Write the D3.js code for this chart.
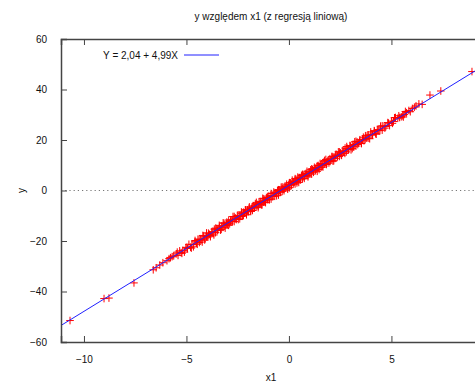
<!DOCTYPE html>
<html><head><meta charset="utf-8">
<script src="https://cdn.jsdelivr.net/npm/d3@7"></script>
<style>body{margin:0;background:#fff}svg{display:block}text{font-family:"Liberation Sans",Arial,sans-serif;fill:#111}</style>
</head><body><svg id="c" width="475" height="385"></svg>
<script>
const title = "y względem x1 (z regresją liniową)";
const xLabel = "x1";
const yLabel = "y";
const legendText = "Y = 2,04 + 4,99X";
const intercept = 2.04;
const slope = 4.99;
const xTicks = [-10, -5, 0, 5];
const yTicks = [-60, -40, -20, 0, 20, 40, 60];
const xsA = [-10.68,-9.02,-8.78,-7.56,-6.62,-6.48,-6.3,-6.15,-5.95,-5.85,-5.78,-5.7,-5.62,
-5.50,-5.41,-5.33,-5.26,-5.18,-5.10,-5.03,-4.95,-4.88,-4.80,-4.73,-4.66,-4.58,-4.51,-4.44,-4.37,-4.30,-4.23,-4.16,-4.09,-4.02,-3.96,-3.89,-3.83,-3.76,-3.70,-3.64,-3.58,-3.52,-3.46,-3.40,-3.34,-3.28,-3.22,-3.17,-3.11,-3.05,-3.00,-2.94,-2.89,-2.83,-2.78,-2.73,-2.67,-2.62,-2.57,-2.52,-2.47,-2.42,-2.37,-2.32,-2.27,-2.22,-2.17,-2.12,-2.07,-2.02,-1.97,-1.93,-1.88,-1.83,-1.78,-1.74,-1.69,-1.64,-1.60,-1.55,-1.50,-1.46,-1.41,-1.37,-1.32,-1.28,-1.23,-1.19,-1.14,-1.10,-1.05,-1.01,-0.96,-0.92,-0.87,-0.83,-0.78,-0.74,-0.69,-0.65,-0.60,-0.56,-0.51,-0.47,-0.42,-0.38,-0.33,-0.29,-0.24,-0.20,-0.15,-0.11,-0.06,-0.02,
0.03,0.07,0.12,0.16,0.21,0.25,0.30,0.34,0.39,0.43,0.48,0.52,0.57,0.61,0.66,0.70,0.75,0.79,0.84,0.88,0.93,0.97,1.02,1.06,1.11,1.15,1.20,1.24,1.29,1.33,1.38,1.43,1.47,1.52,1.57,1.61,1.66,1.71,1.75,1.80,1.85,1.90,1.95,2.00,2.05,2.10,2.15,2.20,2.25,2.30,2.36,2.41,2.46,2.52,2.57,2.63,2.68,2.74,2.80,2.85,2.91,2.97,3.03,3.09,3.15,3.21,3.27,3.33,3.40,3.46,3.53,3.59,3.66,3.73,3.80,3.87,3.94,4.01,4.08,4.16,4.23,4.31,4.39,4.47,4.55,4.64,4.73,4.82,4.91,5.00,5.10,5.20,
5.31,5.40,5.48,5.55,5.62,5.74,5.85,6.02,6.12,6.34,6.88,7.41,8.93];
const ysA = [-51.5,-42.8,-42.6,-36.6,-31.4,-30.6,-29.5,-28.6,-27.8,-27.0,-26.6,-26.2,-25.9,
-25.1,-25.7,-23.9,-24.6,-23.7,-24.4,-22.7,-23.0,-21.3,-22.5,-21.4,-22.3,-20.3,-20.8,-19.3,-20.6,-19.4,-20.4,-18.1,-18.9,-16.8,-18.4,-17.3,-18.3,-16.3,-16.8,-15.3,-16.7,-15.2,-15.4,-13.8,-15.7,-14.1,-14.6,-13.0,-14.9,-13.2,-13.4,-11.7,-13.2,-11.6,-12.1,-10.3,-12.3,-10.8,-11.5,-9.9,-11.5,-9.9,-10.2,-8.5,-10.2,-8.6,-9.0,-7.7,-9.6,-7.7,-8.4,-6.5,-8.1,-7.0,-7.9,-6.1,-6.8,-5.2,-6.6,-5.5,-6.8,-4.5,-5.3,-4.4,-5.5,-3.1,-4.6,-3.9,-4.8,-2.8,-3.6,-2.2,-3.5,-2.2,-3.4,-2.0,-2.4,-0.6,-2.3,-1.0,-1.2,0.0,-1.8,0.2,-0.5,1.3,-0.3,0.7,-0.1,1.7,1.0,2.5,1.0,2.2,
1.1,3.0,2.4,4.1,2.6,3.5,2.6,4.5,3.6,5.3,3.2,5.0,4.8,6.0,4.6,5.8,4.8,6.6,5.9,7.6,5.9,7.0,6.6,8.2,6.5,8.3,7.8,9.2,7.9,9.0,7.6,9.9,8.9,10.7,9.2,10.3,9.3,11.4,10.6,12.3,10.8,11.9,10.9,12.6,12.0,13.5,11.6,13.2,12.7,14.4,13.4,15.3,13.5,14.9,13.9,15.9,15.3,16.8,15.3,16.7,16.3,17.8,16.1,17.7,17.3,19.3,17.6,19.2,18.8,20.1,18.7,20.3,19.7,21.7,20.7,22.0,20.5,22.3,21.9,23.7,22.5,24.0,23.8,25.5,23.9,25.5,25.3,26.9,25.7,27.5,27.3,28.9,
28.6,28.9,29.2,29.6,30.1,30.8,31.7,32.5,33.0,34.3,37.8,39.4,47.1];
const xsB = [-5.45,-5.22,-4.98,-4.76,-4.58,-4.47,-4.38,-4.29,-4.20,-4.11,-4.02,-3.93,-3.84,-3.75,-3.66,-3.57,-3.48,-3.39,-3.30,-3.21,-3.12,-3.03,-2.94,-2.85,-2.76,-2.67,-2.58,-2.49,-2.40,-2.31,-2.22,-2.13,-2.04,-1.95,-1.86,-1.77,-1.68,-1.59,-1.50,-1.41,-1.32,-1.23,-1.14,-1.05,-0.96,-0.87,-0.78,-0.69,-0.60,-0.51,-0.42,-0.33,-0.24,-0.15,-0.06,
0.03,0.12,0.21,0.30,0.39,0.48,0.57,0.66,0.75,0.84,0.93,1.02,1.11,1.20,1.29,1.38,1.47,1.56,1.65,1.74,1.83,1.92,2.01,2.10,2.19,2.28,2.37,2.46,2.55,2.64,2.73,2.82,2.91,3.00,3.09,3.18,3.27,3.36,3.45,3.54,3.63,3.72,3.81,3.90,3.99,4.08,4.17,4.26,4.35,4.44,
4.55,4.68,4.86,5.05,5.15,5.36,5.58,5.68,5.92,6.2,6.5];
const ysB = [-24.4,-24.9,-22.5,-22.8,-19.8,-21.3,-19.3,-19.7,-17.8,-19.6,-18.4,-16.9,-17.8,-16.5,-17.6,-14.9,-15.8,-14.5,-15.4,-12.8,-13.8,-12.5,-13.8,-12.1,-12.4,-10.3,-11.2,-9.9,-11.2,-9.2,-9.9,-7.7,-8.3,-7.0,-8.3,-6.6,-6.9,-4.7,-6.2,-5.0,-5.8,-3.3,-4.1,-2.7,-3.7,-1.2,-2.1,-1.0,-2.1,0.3,-0.7,1.4,0.5,1.7,0.5,
3.1,2.1,3.3,4.7,3.0,4.9,4.2,6.4,5.6,6.8,5.4,7.4,8.6,7.2,8.7,9.8,8.3,10.2,9.9,11.9,10.3,11.7,11.5,13.3,11.8,13.9,13.6,15.3,14.1,15.4,14.7,17.4,16.2,17.6,16.6,18.2,19.5,18.2,19.5,18.6,21.1,20.3,21.6,20.7,23.2,22.2,23.5,22.3,24.1,23.7,
25.6,24.7,26.7,26.6,28.8,29.6,29.1,31.3,31.2,33.5,34.1];

const xs = xsA.concat(xsB);
const ys = ysA.concat(ysB);

const svg = d3.select("#c");
const L = 61, R = 481, T = 39, B = 342;
const x = d3.scaleLinear().domain([-11.12, 9.37]).range([L, R]);
const y = d3.scaleLinear().domain([-60, 60]).range([B, T]);
const axCol = "#444";

// zero line
svg.append("line").attr("x1", L).attr("x2", R).attr("y1", y(0)).attr("y2", y(0))
  .attr("stroke", "#777").attr("stroke-width", 1.2).attr("stroke-dasharray", "1.2,3");

// points
const pts = svg.append("g").attr("stroke", "#ff0000").attr("stroke-width", 1);
xs.forEach((v, i) => {
  const px = x(v), py = y(ys[i]);
  pts.append("path").attr("d", `M${px-3.8},${py}H${px+3.8}M${px},${py-3.8}V${py+3.8}`);
});

// regression line
const xd = x.domain();
svg.append("line").attr("x1", x(xd[0])).attr("x2", x(xd[1]))
  .attr("y1", y(intercept + slope * xd[0])).attr("y2", y(intercept + slope * xd[1]))
  .attr("stroke", "#2020ff").attr("stroke-width", 1);

// axes with inward ticks
const gB = svg.append("g").attr("transform", `translate(0,${B})`)
  .call(d3.axisBottom(x).tickValues(xTicks).tickSize(-6).tickPadding(14).tickFormat(d3.format("d")));
const gT = svg.append("g").attr("transform", `translate(0,${T})`)
  .call(d3.axisTop(x).tickValues(xTicks).tickSize(-6).tickFormat(""));
const gL = svg.append("g").attr("transform", `translate(${L},0)`)
  .call(d3.axisLeft(y).tickValues(yTicks).tickSize(-6).tickPadding(14).tickFormat(d3.format("d")));
const gR = svg.append("g").attr("transform", `translate(${R},0)`)
  .call(d3.axisRight(y).tickValues(yTicks).tickSize(-6).tickFormat(""));
[gB, gT, gL, gR].forEach(g => {
  g.select(".domain").attr("stroke", axCol).attr("stroke-width", 1.5);
  g.selectAll(".tick line").attr("stroke", axCol).attr("stroke-width", 1);
  g.selectAll("text").attr("font-size", 10).attr("font-family", "Liberation Sans, Arial, sans-serif").attr("fill", "#111");
});

// title and labels
svg.append("text").attr("x", (L + R) / 2).attr("y", 20).attr("text-anchor", "middle").attr("font-size", 10).text(title);
svg.append("text").attr("x", (L + R) / 2).attr("y", 381).attr("text-anchor", "middle").attr("font-size", 10).text(xLabel);
svg.append("text").attr("transform", `translate(25,${y(0)}) rotate(-90)`).attr("text-anchor", "middle").attr("font-size", 10).text(yLabel);

// legend
svg.append("text").attr("x", 178).attr("y", 58.5).attr("text-anchor", "end").attr("font-size", 10).text(legendText);
svg.append("line").attr("x1", 184).attr("x2", 219).attr("y1", 55).attr("y2", 55).attr("stroke", "#2020ff").attr("stroke-width", 1);
</script></body></html>
